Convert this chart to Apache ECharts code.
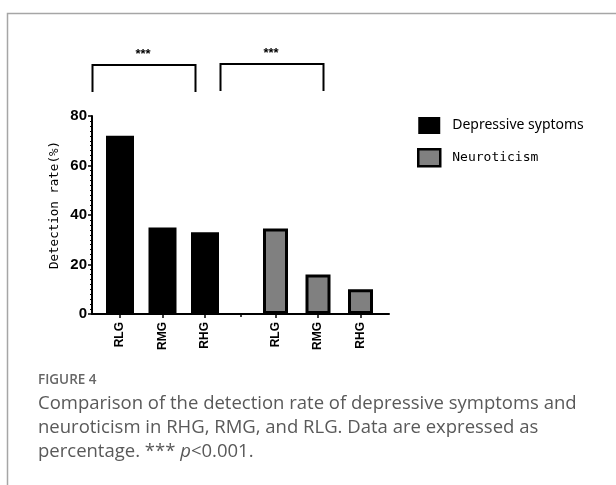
<!DOCTYPE html>
<html><head><meta charset="utf-8">
<script src="https://cdn.jsdelivr.net/npm/echarts@6/dist/echarts.min.js"></script>
<style>html,body{margin:0;padding:0;background:#fff}#c{width:616px;height:485px}</style>
</head><body><div id="c"></div>
<script>
const categories = ['RLG', 'RMG', 'RHG'];
const depressive = [72, 35, 33];
const neuroticism = [34.5, 16, 10];
const yTicks = [0, 20, 40, 60, 80];
const seriesNames = ['Depressive syptoms', 'Neuroticism'];
const yAxisName = 'Detection rate(%)';
const sigLabel = '***';
const captionTitle = 'FIGURE 4';
const captionLines = [
  'Comparison of the detection rate of depressive symptoms and',
  'neuroticism in RHG, RMG, and RLG. Data are expressed as',
  'percentage. *** p<0.001.'
];

const chart = echarts.init(document.getElementById('c'), null, {renderer: 'canvas'});
const TOP = 116, H = 198;
const catAxis = (gi) => ({
  type: 'category', gridIndex: gi, data: categories,
  axisLine: {show: false},
  axisTick: {show: true, alignWithLabel: true, length: 4, lineStyle: {color: '#000', width: 1.5}},
  axisLabel: {rotate: 90, margin: 8, color: '#000', fontFamily: 'Liberation Sans', fontSize: 12, fontWeight: 'bold'}
});
const hiddenY = (gi) => ({type: 'value', gridIndex: gi, min: 0, max: 80, show: false});
const capStyle = {fontSize: 18.5, fontFamily: 'Open Sans', fill: '#595959', verticalAlign: 'middle'};

chart.setOption({
  animation: false,
  grid: [
    {left: 92, width: 297, top: TOP, height: H, outerBoundsMode: 'none'},
    {left: 98.75, width: 127.5, top: TOP, height: H, outerBoundsMode: 'none'},
    {left: 254.25, width: 127.5, top: TOP, height: H, outerBoundsMode: 'none'}
  ],
  xAxis: [
    {type: 'value', gridIndex: 0, min: 0, max: 2,
     axisLine: {show: true, lineStyle: {color: '#000', width: 2}},
     axisTick: {show: true, customValues: [1], length: 3, lineStyle: {color: '#000', width: 1.5}},
     axisLabel: {show: false}, splitLine: {show: false}},
    catAxis(1), catAxis(2)
  ],
  yAxis: [
    {type: 'value', gridIndex: 0, min: 0, max: 80, interval: 20,
     name: yAxisName, nameLocation: 'middle', nameGap: 30.5, nameRotate: 90,
     nameTextStyle: {fontFamily: 'DejaVu Sans Mono', fontSize: 12.5, color: '#000', padding: [0, 0, 0, 20]},
     axisLine: {show: true, lineStyle: {color: '#000', width: 2}},
     axisTick: {show: true, length: 4, lineStyle: {color: '#000', width: 1.5}},
     minorTick: {show: true, splitNumber: 10, length: 2, lineStyle: {color: '#000', width: 1}},
     axisLabel: {margin: 5, color: '#000', fontFamily: 'Liberation Sans', fontSize: 15, fontWeight: 'bold',
       formatter: (v) => yTicks.includes(v) ? String(v) : ''},
     splitLine: {show: false}},
    hiddenY(1), hiddenY(2)
  ],
  legend: {
    orient: 'vertical', left: 412, top: 112, itemWidth: 22, itemHeight: 17, itemGap: 14,
    icon: 'rect',
    data: [
      {name: seriesNames[0], itemStyle: {color: '#000'},
       textStyle: {fontFamily: 'Noto Sans', fontSize: 14, color: '#000', padding: [0, 0, 0, 7]}},
      {name: seriesNames[1], itemStyle: {color: '#808080', borderColor: '#000', borderWidth: 2.5},
       textStyle: {fontFamily: 'DejaVu Sans Mono', fontSize: 13, color: '#000', padding: [0, 0, 0, 7]}}
    ]
  },
  series: [
    {name: seriesNames[0], type: 'bar', xAxisIndex: 1, yAxisIndex: 1, data: depressive,
     barWidth: 28, itemStyle: {color: '#000'}},
    {name: seriesNames[1], type: 'bar', xAxisIndex: 2, yAxisIndex: 2, data: neuroticism,
     barWidth: 25, itemStyle: {color: '#808080', borderColor: '#000', borderWidth: 3}}
  ],
  graphic: [
    {type: 'polyline', shape: {points: [[7.5, 485], [7.5, 13.5], [616, 13.5]]}, style: {stroke: '#a6a6a6', lineWidth: 1.5, fill: null}},
    {type: 'polyline', shape: {points: [[92.5, 92], [92.5, 65], [195.5, 65], [195.5, 92]]}, style: {stroke: '#000', lineWidth: 2, fill: null}},
    {type: 'polyline', shape: {points: [[220.5, 91], [220.5, 64], [323.5, 64], [323.5, 91]]}, style: {stroke: '#000', lineWidth: 2, fill: null}},
    {type: 'text', x: 143, y: 54, style: {text: sigLabel, fontSize: 13, fontWeight: 'bold', fontFamily: 'Liberation Sans', fill: '#000', align: 'center', verticalAlign: 'middle'}},
    {type: 'text', x: 271, y: 53, style: {text: sigLabel, fontSize: 13, fontWeight: 'bold', fontFamily: 'Liberation Sans', fill: '#000', align: 'center', verticalAlign: 'middle'}},
    {type: 'text', x: 38, y: 380, style: {text: captionTitle, fontSize: 13.5, fontWeight: 600, fontFamily: 'Open Sans', fill: '#666', verticalAlign: 'middle'}},
    {type: 'text', x: 38, y: 404, style: Object.assign({text: captionLines[0]}, capStyle)},
    {type: 'text', x: 38, y: 428, style: Object.assign({text: captionLines[1]}, capStyle)},
    {type: 'text', x: 38, y: 452, style: Object.assign({
      text: 'percentage. *** {i|p}<0.001.',
      rich: {i: {fontStyle: 'italic', fontSize: 18.5, fontFamily: 'Open Sans', fill: '#595959'}}}, capStyle)}
  ]
});
</script></body></html>
